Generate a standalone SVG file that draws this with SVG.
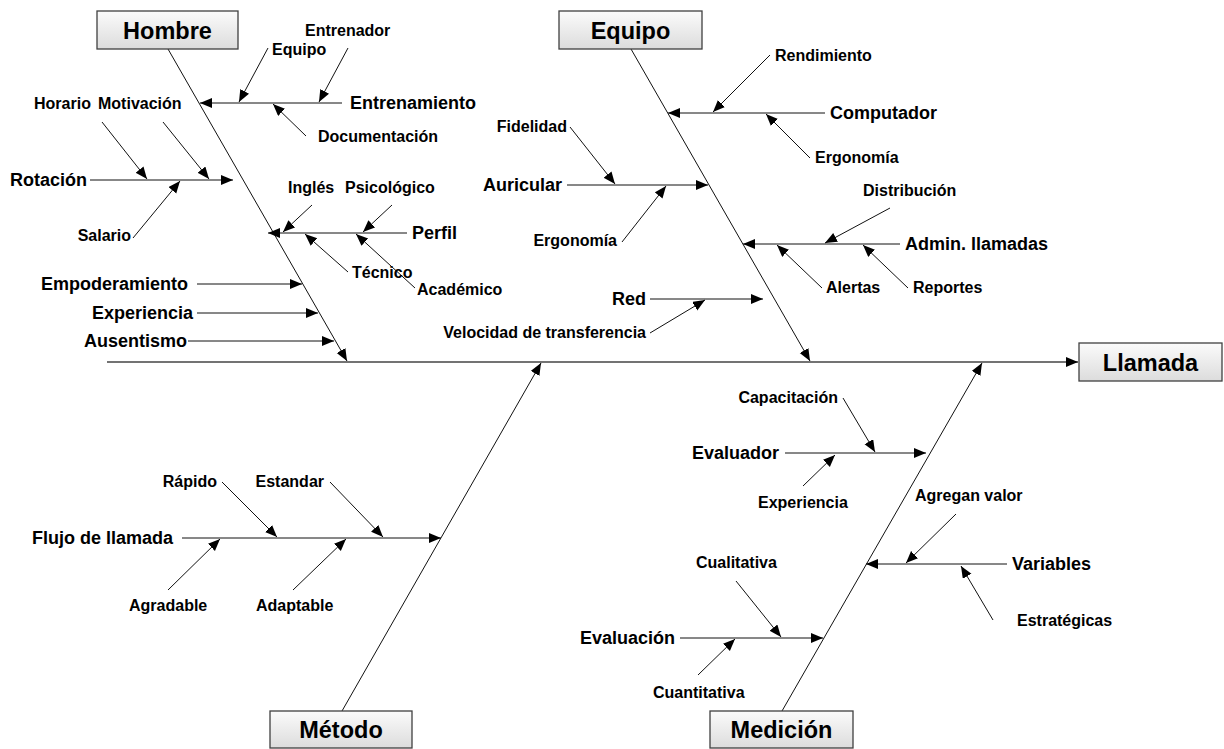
<svg xmlns="http://www.w3.org/2000/svg" width="1224" height="749" viewBox="0 0 1224 749">
  <defs>
    <linearGradient id="boxFill" x1="0" y1="0" x2="0" y2="1">
      <stop offset="0" stop-color="#fbfbfb"/>
      <stop offset="1" stop-color="#dcdcdc"/>
    </linearGradient>
    <marker id="arrow" markerUnits="userSpaceOnUse" markerWidth="13" markerHeight="11" refX="12" refY="5" orient="auto">
      <path d="M0,0 L12,5 L0,10 Z" fill="#000"/>
    </marker>
    <style>
      .box rect { fill: url(#boxFill); stroke: #404040; stroke-width: 1.3; }
      .box text { font-family: "Liberation Sans", Arial, sans-serif; font-weight: bold; font-size: 23.5px; text-anchor: middle; fill: #000; }
      .lbl { font-family: "Liberation Sans", Arial, sans-serif; font-weight: bold; fill: #000; }
      .s { font-size: 16px; }
      .b { font-size: 18px; }
      .e { text-anchor: end; }
      #connectors line { stroke: #111; stroke-width: 1; fill: none; }
      #connectors line.arr { marker-end: url(#arrow); }
      #connectors line.main { stroke: #444; stroke-width: 1.6; }
    </style>
  </defs>
  <rect width="1224" height="749" fill="#fff"/>

  <!-- connectors: spines, branches and sub-causes -->
  <g id="connectors">
    <!-- main backbone -->
    <line class="main arr" x1="107" y1="362" x2="1078" y2="362"/>

    <!-- Hombre -->
    <line class="arr" x1="168" y1="49" x2="347" y2="361"/>
    <line class="arr" x1="342" y1="103" x2="200" y2="103"/>
    <line class="arr" x1="268" y1="48" x2="239" y2="102"/>
    <line class="arr" x1="348" y1="48" x2="319" y2="102"/>
    <line class="arr" x1="306" y1="136" x2="273" y2="104"/>
    <line class="arr" x1="90" y1="180" x2="233" y2="180"/>
    <line class="arr" x1="102" y1="122" x2="147" y2="179"/>
    <line class="arr" x1="163" y1="122" x2="209" y2="179"/>
    <line class="arr" x1="133" y1="238" x2="180" y2="181"/>
    <line class="arr" x1="407" y1="233" x2="268" y2="233"/>
    <line class="arr" x1="312" y1="205" x2="283" y2="232"/>
    <line class="arr" x1="392" y1="205" x2="363" y2="232"/>
    <line class="arr" x1="348" y1="272" x2="305" y2="234"/>
    <line class="arr" x1="415" y1="288" x2="356" y2="234"/>
    <line class="arr" x1="197" y1="284" x2="302" y2="284"/>
    <line class="arr" x1="197" y1="313" x2="318" y2="313"/>
    <line class="arr" x1="188" y1="341" x2="334" y2="341"/>

    <!-- Equipo -->
    <line class="arr" x1="631" y1="49" x2="810" y2="361"/>
    <line class="arr" x1="825" y1="113" x2="668" y2="113"/>
    <line class="arr" x1="770" y1="55" x2="713" y2="112"/>
    <line class="arr" x1="810" y1="158" x2="766" y2="114"/>
    <line class="arr" x1="567" y1="185" x2="708" y2="185"/>
    <line class="arr" x1="570" y1="127" x2="615" y2="184"/>
    <line class="arr" x1="622" y1="242" x2="666" y2="186"/>
    <line class="arr" x1="900" y1="244" x2="743" y2="244"/>
    <line class="arr" x1="890" y1="208" x2="825" y2="243"/>
    <line class="arr" x1="822" y1="288" x2="777" y2="245"/>
    <line class="arr" x1="908" y1="288" x2="863" y2="245"/>
    <line class="arr" x1="650" y1="299" x2="763" y2="299"/>
    <line class="arr" x1="650" y1="333" x2="705" y2="300"/>

    <!-- Método -->
    <line class="arr" x1="342" y1="711" x2="541" y2="363"/>
    <line class="arr" x1="182" y1="538" x2="441" y2="538"/>
    <line class="arr" x1="222" y1="482" x2="277" y2="537"/>
    <line class="arr" x1="330" y1="482" x2="383" y2="537"/>
    <line class="arr" x1="168" y1="590" x2="220" y2="539"/>
    <line class="arr" x1="293" y1="590" x2="346" y2="539"/>

    <!-- Medición -->
    <line class="arr" x1="782" y1="711" x2="982" y2="363"/>
    <line class="arr" x1="785" y1="453" x2="926" y2="453"/>
    <line class="arr" x1="843" y1="398" x2="875" y2="452"/>
    <line class="arr" x1="803" y1="486" x2="835" y2="455"/>
    <line class="arr" x1="1007" y1="564" x2="866" y2="564"/>
    <line class="arr" x1="956" y1="514" x2="906" y2="563"/>
    <line class="arr" x1="993" y1="620" x2="961" y2="566"/>
    <line class="arr" x1="680" y1="638" x2="823" y2="638"/>
    <line class="arr" x1="736" y1="581" x2="781" y2="637"/>
    <line class="arr" x1="698" y1="675" x2="735" y2="639"/>
  </g>

  <!-- category boxes -->
  <g id="hombre" class="box">
    <rect x="97" y="11" width="141" height="38"/>
    <text x="167.5" y="38.5">Hombre</text>
  </g>
  <g id="equipo" class="box">
    <rect x="559" y="11" width="143" height="38"/>
    <text x="630.5" y="38.5">Equipo</text>
  </g>
  <g id="llamada" class="box">
    <rect x="1079" y="343" width="143" height="38"/>
    <text x="1150.5" y="370.5">Llamada</text>
  </g>
  <g id="metodo" class="box">
    <rect x="270" y="711" width="142" height="37"/>
    <text x="341" y="738">Método</text>
  </g>
  <g id="medicion" class="box">
    <rect x="710" y="711" width="143" height="37"/>
    <text x="781.5" y="738">Medición</text>
  </g>

  <!-- Hombre causes -->
  <g id="hombre-causes" class="lbl">
    <text class="b" x="350" y="109">Entrenamiento</text>
    <text class="s" x="272" y="55">Equipo</text>
    <text class="s" x="305" y="36">Entrenador</text>
    <text class="s" x="318" y="142">Documentación</text>
    <text class="b e" x="87" y="186">Rotación</text>
    <text class="s" x="34" y="109">Horario</text>
    <text class="s" x="98" y="109">Motivación</text>
    <text class="s e" x="131" y="241">Salario</text>
    <text class="b" x="412" y="239">Perfil</text>
    <text class="s" x="288" y="193">Inglés</text>
    <text class="s" x="345" y="193">Psicológico</text>
    <text class="s" x="352" y="278">Técnico</text>
    <text class="s" x="417" y="295">Académico</text>
    <text class="b e" x="188" y="290">Empoderamiento</text>
    <text class="b e" x="193" y="319">Experiencia</text>
    <text class="b e" x="187" y="347">Ausentismo</text>
  </g>

  <!-- Equipo causes -->
  <g id="equipo-causes" class="lbl">
    <text class="b" x="830" y="119">Computador</text>
    <text class="s" x="775" y="61">Rendimiento</text>
    <text class="s" x="815" y="163">Ergonomía</text>
    <text class="b e" x="562" y="191">Auricular</text>
    <text class="s e" x="567" y="132">Fidelidad</text>
    <text class="s e" x="617" y="246">Ergonomía</text>
    <text class="b" x="905" y="250">Admin. llamadas</text>
    <text class="s" x="863" y="196">Distribución</text>
    <text class="s" x="826" y="293">Alertas</text>
    <text class="s" x="913" y="293">Reportes</text>
    <text class="b e" x="646" y="305">Red</text>
    <text class="s e" x="646" y="338">Velocidad de transferencia</text>
  </g>

  <!-- Método causes -->
  <g id="metodo-causes" class="lbl">
    <text class="b e" x="173" y="544">Flujo de llamada</text>
    <text class="s e" x="217" y="487">Rápido</text>
    <text class="s e" x="324" y="487">Estandar</text>
    <text class="s" x="129" y="611">Agradable</text>
    <text class="s" x="256" y="611">Adaptable</text>
  </g>

  <!-- Medición causes -->
  <g id="medicion-causes" class="lbl">
    <text class="b e" x="779" y="459">Evaluador</text>
    <text class="s e" x="838" y="403">Capacitación</text>
    <text class="s" x="758" y="508">Experiencia</text>
    <text class="b" x="1012" y="570">Variables</text>
    <text class="s" x="915" y="501">Agregan valor</text>
    <text class="s" x="1017" y="626">Estratégicas</text>
    <text class="b e" x="675" y="644">Evaluación</text>
    <text class="s" x="696" y="568">Cualitativa</text>
    <text class="s" x="653" y="698">Cuantitativa</text>
  </g>
</svg>
